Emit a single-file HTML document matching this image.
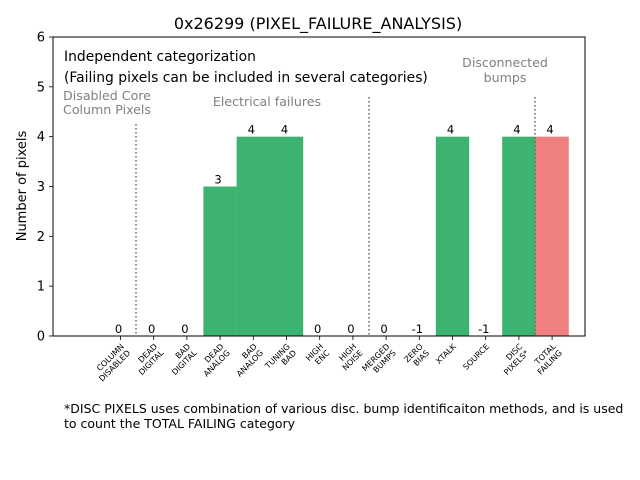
<!DOCTYPE html>
<html><head><meta charset="utf-8"><style>body{margin:0;background:#fff}svg{display:block;font-family:"DejaVu Sans","Liberation Sans",sans-serif}</style></head>
<body>
<svg id="chart" width="640" height="480" viewBox="0 0 640 480">
<rect width="640" height="480" fill="#fff"/>
<text x="318" y="29" font-size="16" text-anchor="middle">0x26299 (PIXEL_FAILURE_ANALYSIS)</text>
<g id="bars"></g>
<g id="xticks"></g>
<g id="yticks"></g>
<line x1="136" y1="124" x2="136" y2="336" stroke="#666" stroke-width="1.5" stroke-dasharray="1.5,2.5"/>
<line x1="369" y1="97" x2="369" y2="336" stroke="#666" stroke-width="1.5" stroke-dasharray="1.5,2.5"/>
<line x1="535" y1="97" x2="535" y2="336" stroke="#666" stroke-width="1.5" stroke-dasharray="1.5,2.5"/>
<rect x="53" y="37" width="532" height="299" fill="none" stroke="#000" stroke-width="1"/>
<text x="64" y="61" font-size="13.9">Independent categorization</text>
<text x="64" y="82" font-size="13.9">(Failing pixels can be included in several categories)</text>
<g font-size="12.6" fill="#808080">
<text x="107" y="100" text-anchor="middle">Disabled Core</text>
<text x="107" y="114" text-anchor="middle">Column Pixels</text>
<text x="267" y="106" text-anchor="middle">Electrical failures</text>
<text x="505" y="67" text-anchor="middle">Disconnected</text>
<text x="505" y="82" text-anchor="middle">bumps</text>
</g>
<text transform="translate(26,186) rotate(-90)" font-size="13" text-anchor="middle">Number of pixels</text>
<text x="64" y="413" font-size="12.5">*DISC PIXELS uses combination of various disc. bump identificaiton methods, and is used</text>
<text x="64" y="428" font-size="12.5">to count the TOTAL FAILING category</text>
</svg>
<script>
const categories = [["COLUMN","DISABLED"],["DEAD","DIGITAL"],["BAD","DIGITAL"],["DEAD","ANALOG"],["BAD","ANALOG"],["TUNING","BAD"],["HIGH","ENC"],["HIGH","NOISE"],["MERGED","BUMPS"],["ZERO","BIAS"],["XTALK"],["SOURCE"],["DISC","PIXELS*"],["TOTAL","FAILING"]];
const values = [0,0,0,3,4,4,0,0,0,-1,4,-1,4,4];
const colors = ["#3cb371","#3cb371","#3cb371","#3cb371","#3cb371","#3cb371","#3cb371","#3cb371","#3cb371","#3cb371","#3cb371","#3cb371","#3cb371","#f08080"];
const yTicks = [0,1,2,3,4,5,6];

const NS = "http://www.w3.org/2000/svg";
const xc = i => 120.5 + 33.2 * i;
const bw = 33.4;
const y = v => 336 - v * (299 / 6);
function mk(tag, attrs, parent) { const e = document.createElementNS(NS, tag); for (const k in attrs) e.setAttribute(k, attrs[k]); parent.appendChild(e); return e; }
const gb = document.getElementById("bars"), gx = document.getElementById("xticks"), gy = document.getElementById("yticks");
values.forEach((v, i) => {
  if (v > 0) {
    const r = mk("rect", {x: xc(i) - bw / 2, y: y(v), width: bw, height: y(0) - y(v), fill: colors[i]}, gb);
    
    
  }
  const t = mk("text", {x: xc(i) - 2, y: (v > 0 ? y(v) : y(0)) - 3, "font-size": 11.5, "text-anchor": "middle"}, gb);
  t.textContent = String(v);
  
  
  const tk = mk("line", {x1: xc(i), y1: 336, x2: xc(i), y2: 340, stroke: "#000", "stroke-width": 0.8}, gx);
  
  
  const g = mk("g", {transform: "translate(" + (xc(i) + 4) + ",347) rotate(-45)", "font-size": 8}, gx);
  
  
  categories[i].forEach((line, k) => {
    const lt = mk("text", {x: 0, y: k * 9, "text-anchor": "end"}, g);
    lt.textContent = line;
  });
});
yTicks.forEach(v => {
  const tk = mk("line", {x1: 49, y1: y(v), x2: 53, y2: y(v), stroke: "#000", "stroke-width": 0.8}, gy);
  
  
  const t = mk("text", {x: 45, y: y(v) + 4.5, "font-size": 13, "text-anchor": "end"}, gy);
  t.textContent = String(v);
  
  
});
</script>
</body></html>
